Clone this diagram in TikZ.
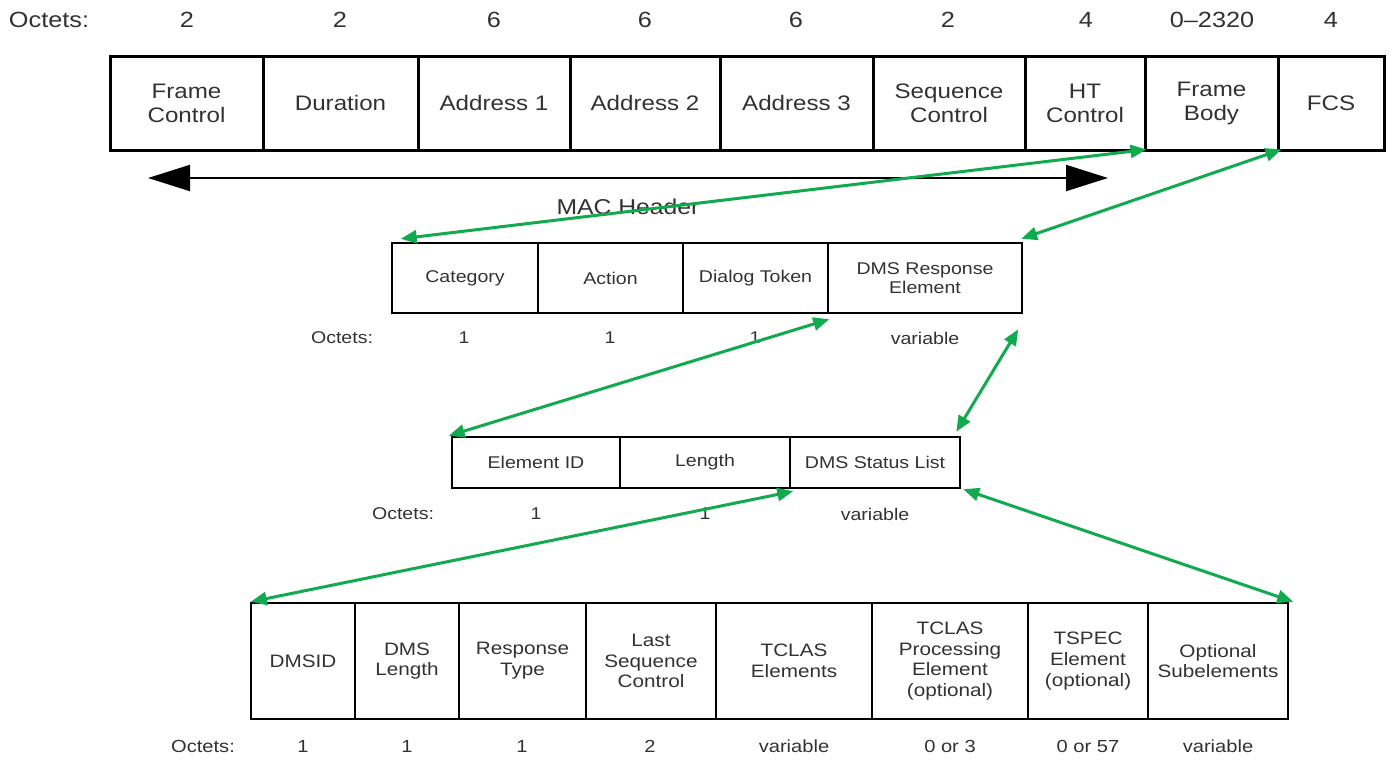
\documentclass[tikz,border=0pt]{standalone}
\usepackage{fontspec}
\setmainfont[FakeStretch=1.15]{Liberation Sans}
\usetikzlibrary{arrows.meta}
\definecolor{txt}{RGB}{50,50,50}
\definecolor{grn}{RGB}{18,170,78}
\begin{document}
\begin{tikzpicture}[x=1pt,y=-1pt,
  cellA/.style={draw=black,line width=3pt,inner sep=0pt,align=center,text=txt,
    font=\fontsize{21}{24}\selectfont,minimum height=94pt},
  cellB/.style={draw=black,line width=2.5pt,inner sep=0pt,align=center,text=txt,
    font=\fontsize{17}{18.5}\selectfont,minimum height=70pt},
  cellC/.style={draw=black,line width=2.5pt,inner sep=0pt,align=center,text=txt,
    font=\fontsize{17}{18.5}\selectfont,minimum height=51pt},
  cellD/.style={draw=black,line width=2.5pt,inner sep=0pt,align=center,text=txt,
    font=\fontsize{18}{20.7}\selectfont,minimum height=116pt},
  octA/.style={text=txt,font=\fontsize{22}{24}\selectfont,inner sep=0pt},
  octB/.style={text=txt,font=\fontsize{17}{19}\selectfont,inner sep=0pt},
  octD/.style={text=txt,font=\fontsize{17.5}{20}\selectfont,inner sep=0pt},
  link/.style={grn,line width=3pt,{Triangle[length=16pt,width=13pt]}-{Triangle[length=16pt,width=13pt]}},
  span/.style={black,line width=2pt,{Triangle[length=42pt,width=26pt]}-{Triangle[length=42pt,width=26pt]}}
]
\useasboundingbox (0,0) rectangle (1394,761);

% ---- Row 1: MAC frame
\node[octA] (o1) at (49,20) {Octets:};
\node[octA] (o1a) at (187,20) {2};
\node[octA] (o1b) at (340,20) {2};
\node[octA] (o1c) at (494,20) {6};
\node[octA] (o1d) at (645,20) {6};
\node[octA] (o1e) at (796,20) {6};
\node[octA] (o1f) at (948,20) {2};
\node[octA] (o1g) at (1086,20) {4};
\node[octA] (o1h) at (1212,20) {0--2320};
\node[octA] (o1i) at (1331,20) {4};

\node[cellA,minimum width=153pt] (fc)  at (186.5,103) {Frame\\Control};
\node[cellA,minimum width=155pt] (dur) at (340.5,103) {Duration};
\node[cellA,minimum width=152pt] (a1)  at (494,103) {Address 1};
\node[cellA,minimum width=150pt] (a2)  at (645,103) {Address 2};
\node[cellA,minimum width=153pt] (a3)  at (796.5,103) {Address 3};
\node[cellA,minimum width=152pt] (sc)  at (949,103) {Sequence\\Control};
\node[cellA,minimum width=120pt] (ht)  at (1085,103) {HT\\Control};
\node[cellA,minimum width=133pt] (fb)  at (1211.5,103) {Frame\\Body};
\node[cellA,minimum width=106pt] (fcs) at (1331,103) {FCS};

\coordinate (mhL) at (148,178);
\coordinate (mhR) at (1108,178);
\draw[span] (mhL) -- (mhR);
\node[text=txt,font=\fontsize{21.5}{24}\selectfont,inner sep=0pt] (mac) at (628,207) {MAC Header};

% ---- Row 2: Action frame body
\node[cellB,minimum width=146pt] (cat) at (465,278) {Category};
\node[cellB,minimum width=145pt] (act) at (610.5,278) {Action};
\node[cellB,minimum width=145pt] (dt)  at (755.5,278) {Dialog Token};
\node[cellB,minimum width=194pt] (dre) at (925,278) {DMS Response\\Element};
\node[octB] (o2)  at (342,338) {Octets:};
\node[octB] (o2a) at (464,338) {1};
\node[octB] (o2b) at (610,338) {1};
\node[octB] (o2c) at (755,338) {1};
\node[octB] (o2d) at (925,338) {variable};

% ---- Row 3: DMS Response element
\node[cellC,minimum width=168pt] (eid) at (536,462.5) {Element ID};
\node[cellC,minimum width=170pt] (len) at (705,462.5) {Length};
\node[cellC,minimum width=170pt] (dsl) at (875,462.5) {DMS Status List};
\node[octB] (o3)  at (403,514) {Octets:};
\node[octB] (o3a) at (536,514) {1};
\node[octB] (o3b) at (705,514) {1};
\node[octB] (o3c) at (875,514) {variable};

% ---- Row 4: DMS Status field
\node[cellD,minimum width=104pt] (did) at (303,661) {DMSID};
\node[cellD,minimum width=104pt] (dln) at (407,661) {DMS\\Length};
\node[cellD,minimum width=127pt] (rt)  at (522.5,661) {Response\\Type};
\node[cellD,minimum width=130pt] (lsc) at (651,661) {Last\\Sequence\\Control};
\node[cellD,minimum width=156pt] (tce) at (794,661) {TCLAS\\Elements};
\node[cellD,minimum width=156pt] (tpe) at (950,661) {TCLAS\\Processing\\Element\\(optional)};
\node[cellD,minimum width=120pt] (tse) at (1088,661) {TSPEC\\Element\\(optional)};
\node[cellD,minimum width=140pt] (osb) at (1218,661) {Optional\\Subelements};
\node[octD] (o4)  at (203,746) {Octets:};
\node[octD] (o4a) at (303,746) {1};
\node[octD] (o4b) at (407,746) {1};
\node[octD] (o4c) at (522,746) {1};
\node[octD] (o4d) at (650,746) {2};
\node[octD] (o4e) at (794,746) {variable};
\node[octD] (o4f) at (950,746) {0 or 3};
\node[octD] (o4g) at (1088,746) {0 or 57};
\node[octD] (o4h) at (1218,746) {variable};

% ---- green links
\draw[link] ([shift={(0,-2)}]ht.south east) -- ([shift={(10,-3)}]cat.north west);
\draw[link] ([shift={(2,-2)}]fb.south east) -- ([shift={(-2,-3)}]dre.north east);
\draw[link] ([shift={(0,5)}]dt.south east) -- ([shift={(-2,0)}]eid.north west);
\draw[link] ([shift={(-5,15)}]dre.south east) -- ([shift={(-5,-4)}]dsl.north east);
\draw[link] ([shift={(2,2)}]len.south east) -- ([shift={(1,0)}]did.north west);
\draw[link] ([shift={(2,0)}]dsl.south east) -- ([shift={(4,0)}]osb.north east);
\end{tikzpicture}
\end{document}
